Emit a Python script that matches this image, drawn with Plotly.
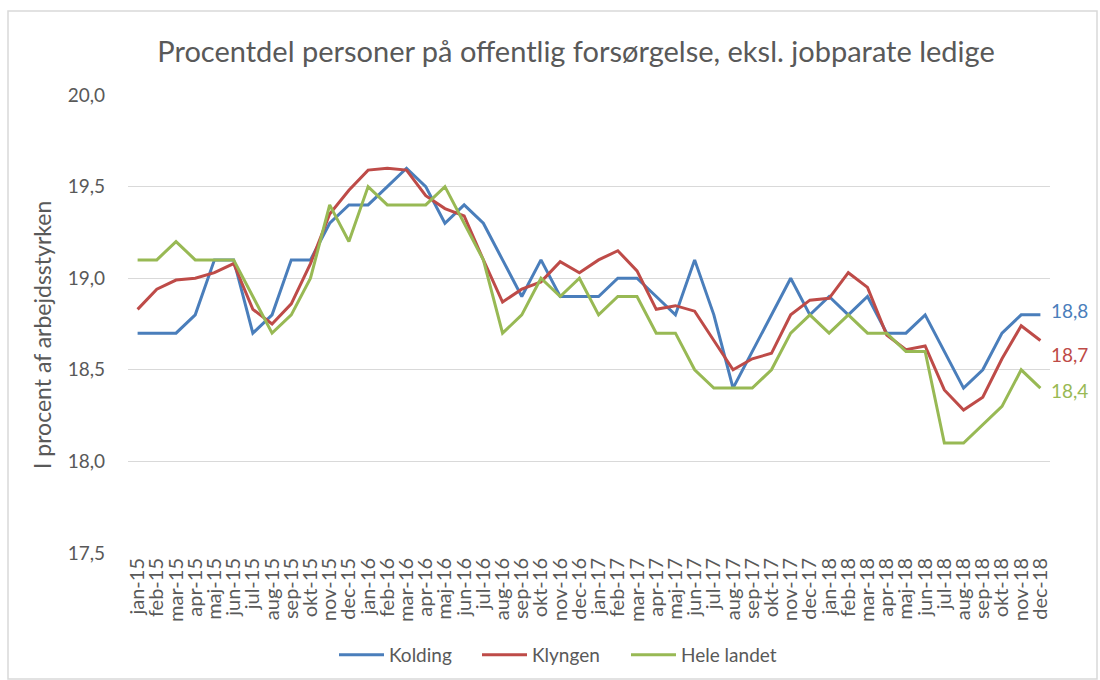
import plotly.graph_objects as go

months = ["jan", "feb", "mar", "apr", "maj", "jun", "jul", "aug", "sep", "okt", "nov", "dec"]
years = ["15", "16", "17", "18"]
categories = [f"{m}-{y}" for y in years for m in months]

kolding = [18.7, 18.7, 18.7, 18.8, 19.1, 19.1, 18.7, 18.8, 19.1, 19.1, 19.3, 19.4,
           19.4, 19.5, 19.6, 19.5, 19.3, 19.4, 19.3, 19.1, 18.9, 19.1, 18.9, 18.9,
           18.9, 19.0, 19.0, 18.9, 18.8, 19.1, 18.8, 18.4, 18.6, 18.8, 19.0, 18.8,
           18.9, 18.8, 18.9, 18.7, 18.7, 18.8, 18.6, 18.4, 18.5, 18.7, 18.8, 18.8]

klyngen = [18.83, 18.94, 18.99, 19.00, 19.03, 19.08, 18.83, 18.75, 18.86, 19.08, 19.35, 19.48,
           19.59, 19.60, 19.59, 19.45, 19.38, 19.34, 19.10, 18.87, 18.94, 18.98, 19.09, 19.03,
           19.10, 19.15, 19.04, 18.83, 18.85, 18.82, 18.66, 18.50, 18.56, 18.59, 18.80, 18.88,
           18.89, 19.03, 18.95, 18.69, 18.61, 18.63, 18.39, 18.28, 18.35, 18.56, 18.74, 18.66]

hele_landet = [19.1, 19.1, 19.2, 19.1, 19.1, 19.1, 18.9, 18.7, 18.8, 19.0, 19.4, 19.2,
               19.5, 19.4, 19.4, 19.4, 19.5, 19.3, 19.1, 18.7, 18.8, 19.0, 18.9, 19.0,
               18.8, 18.9, 18.9, 18.7, 18.7, 18.5, 18.4, 18.4, 18.4, 18.5, 18.7, 18.8,
               18.7, 18.8, 18.7, 18.7, 18.6, 18.6, 18.1, 18.1, 18.2, 18.3, 18.5, 18.4]

# name, values, colour, end-label y shift, legend id, legend left pixel
series = [
    ("Kolding", kolding, "#4a7ebb", 4, "legend", 334),
    ("Klyngen", klyngen, "#be4b48", -14, "legend2", 477),
    ("Hele landet", hele_landet, "#98b954", -2, "legend3", 626),
]

title_text = "Procentdel personer på offentlig forsørgelse, eksl. jobparate ledige"
y_title = "I procent af arbejdsstyrken"
text_color = "#595959"
font_family = "Lato, 'Open Sans', sans-serif"

L, R, T, B = 128, 50, 95, 127
W, H = 1100, 680
pw, ph = W - L - R, H - T - B

fig = go.Figure()
legends = {}
for name, vals, color, _, leg, lx in series:
    fig.add_trace(go.Scatter(
        x=categories, y=vals, name=name, mode="lines",
        line=dict(color=color, width=3), legend=leg,
    ))
    legends[leg] = dict(orientation="h", x=(lx - L) / pw, xanchor="left",
                        y=-(655 - (H - B)) / ph, yanchor="middle",
                        font=dict(size=19, color=text_color, family=font_family),
                        itemwidth=45, bgcolor="rgba(0,0,0,0)")

for name, vals, color, yshift, _, _ in series:
    fig.add_annotation(
        x=categories[-1], y=vals[-1], text=f"{round(vals[-1], 1):.1f}".replace(".", ","),
        xref="x", yref="y", xanchor="left", yanchor="middle",
        xshift=9, yshift=yshift, showarrow=False,
        font=dict(color=color, size=19, family=font_family),
    )

fig.add_annotation(
    text=y_title, xref="paper", yref="paper",
    x=(42 - L) / pw, y=((H - B) - 335) / ph, xanchor="center", yanchor="middle",
    textangle=-90, showarrow=False,
    font=dict(size=23, color=text_color, family=font_family),
)

fig.add_shape(
    type="rect", xref="paper", yref="paper",
    x0=(8 - L) / pw, x1=(1097 - L) / pw,
    y0=(H - B - 679) / ph, y1=(H - B - 11) / ph,
    line=dict(color="#d9d9d9", width=1.5), fillcolor="rgba(0,0,0,0)", layer="below",
)

fig.update_layout(
    width=W, height=H,
    margin=dict(l=L, r=R, t=T, b=B, autoexpand=False),
    paper_bgcolor="white", plot_bgcolor="white",
    separators=",.",
    font=dict(family=font_family, color=text_color, size=15),
    title=dict(text=title_text, x=(576 - L) / pw, xref="paper", xanchor="center",
               y=(H - 52) / H, yanchor="middle",
               font=dict(size=29, color=text_color, family=font_family)),
    showlegend=True,
    xaxis=dict(
        type="category", range=[-0.5, len(categories) - 0.5], automargin=False,
        tickmode="array", tickvals=categories, ticktext=categories,
        tickangle=-90, tickfont=dict(size=20, color=text_color),
        showgrid=False, showline=False, ticks="", zeroline=False,
    ),
    yaxis=dict(
        range=[17.5, 20.0], dtick=0.5, tick0=17.5, tickformat=".1f", automargin=False,
        showgrid=True, gridcolor="#d9d9d9", gridwidth=1,
        showline=False, zeroline=False, ticks="",
        tickfont=dict(size=19, color=text_color),
        ticklabelstandoff=22,
    ),
    **legends,
)

fig.write_html("out.html", config={"displayModeBar": False},
               post_script="document.body.style.margin='0';")
